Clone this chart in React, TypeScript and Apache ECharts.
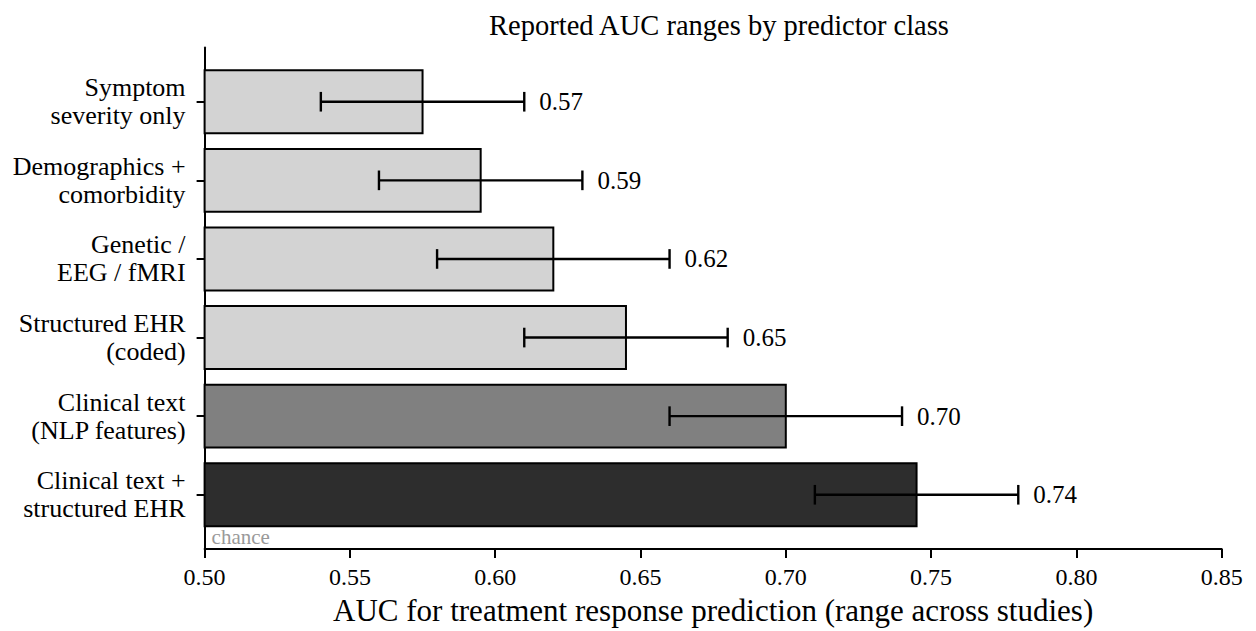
import React, { useEffect, useRef } from "react";
import * as echarts from "echarts";

// ---- data ----
const categories = [
  "Symptom\nseverity only",
  "Demographics +\ncomorbidity",
  "Genetic /\nEEG / fMRI",
  "Structured EHR\n(coded)",
  "Clinical text\n(NLP features)",
  "Clinical text +\nstructured EHR",
];
const aucPoint = [0.575, 0.595, 0.62, 0.645, 0.7, 0.745];
const aucLow = [0.54, 0.56, 0.58, 0.61, 0.66, 0.71];
const aucHigh = [0.61, 0.63, 0.66, 0.68, 0.74, 0.78];
const pointLabels = ["0.57", "0.59", "0.62", "0.65", "0.70", "0.74"];
const chanceLevel = 0.5;
const xMin = 0.5;
const xMax = 0.85;
const xStep = 0.05;

// ---- styles ----
const barFills = ["#d3d3d3", "#d3d3d3", "#d3d3d3", "#d3d3d3", "#808080", "#2d2d2d"];
const FONT = "Liberation Serif";
const Y_MIN = -0.69;
const Y_MAX = categories.length - 1 + 0.69;

export default function App() {
  const ref = useRef<HTMLDivElement>(null);

  useEffect(() => {
    if (!ref.current) return;
    const chart = echarts.init(ref.current, undefined, { renderer: "svg" });
    const idx = categories.map((_, i) => i);

    const barData = categories.map((_, i) => [aucPoint[i], i, aucLow[i], aucHigh[i]]);

    const option: any = {
      animation: false,
      backgroundColor: "#ffffff",
      textStyle: { fontFamily: FONT },
      title: {
        text: "Reported AUC ranges by predictor class",
        left: 714,
        top: 6,
        textAlign: "center",
        textStyle: { fontFamily: FONT, fontSize: 28.5, fontWeight: "normal", color: "#000" },
      },
      grid: { left: 204.6, right: 34.3, top: 47.5, bottom: 78, containLabel: false },
      xAxis: {
        type: "value",
        min: xMin,
        max: xMax,
        interval: xStep,
        name: "AUC for treatment response prediction (range across studies)",
        nameLocation: "middle",
        nameGap: 46,
        nameTextStyle: { fontFamily: FONT, fontSize: 31, color: "#000" },
        axisLine: { show: true, onZero: false, lineStyle: { color: "#000", width: 2 } },
        axisTick: { show: true, length: 9, lineStyle: { color: "#000", width: 2 } },
        axisLabel: {
          margin: 16,
          fontFamily: FONT,
          fontSize: 24,
          color: "#000",
          formatter: (v: number) => v.toFixed(2),
        },
        splitLine: { show: false },
      },
      yAxis: {
        type: "value",
        inverse: true,
        min: Y_MIN,
        max: Y_MAX,
        axisLine: { show: true, onZero: false, lineStyle: { color: "#000", width: 2 } },
        axisTick: { show: true, length: 8, customValues: idx, lineStyle: { color: "#000", width: 2 } },
        axisLabel: {
          customValues: idx,
          margin: 19,
          fontFamily: FONT,
          fontSize: 26,
          lineHeight: 28,
          color: "#000",
          align: "right",
          formatter: (v: number) => categories[Math.round(v)] ?? "",
        },
        splitLine: { show: false },
      },
      series: [
        {
          type: "custom",
          name: "AUC",
          clip: false,
          encode: { x: [0, 2, 3], y: 1 },
          data: barData,
          renderItem: (params: any, api: any) => {
            const v = api.value(0);
            const i = api.value(1);
            const lo = api.value(2);
            const hi = api.value(3);
            const a = api.coord([chanceLevel, i - 0.4]);
            const b = api.coord([v, i + 0.4]);
            const pl = api.coord([lo, i]);
            const ph = api.coord([hi, i]);
            const capH = Math.abs(api.size([0, 0.125])[1]);
            const top = Math.min(a[1], b[1]);
            const h = Math.abs(b[1] - a[1]);
            return {
              type: "group",
              children: [
                {
                  type: "rect",
                  shape: { x: a[0], y: top, width: b[0] - a[0], height: h },
                  style: { fill: barFills[i], stroke: "#000", lineWidth: 2 },
                },
                {
                  type: "line",
                  shape: { x1: pl[0], y1: pl[1], x2: ph[0], y2: ph[1] },
                  style: { stroke: "#000", lineWidth: 2.4 },
                },
                {
                  type: "line",
                  shape: { x1: pl[0], y1: pl[1] - capH, x2: pl[0], y2: pl[1] + capH },
                  style: { stroke: "#000", lineWidth: 2.4 },
                },
                {
                  type: "line",
                  shape: { x1: ph[0], y1: ph[1] - capH, x2: ph[0], y2: ph[1] + capH },
                  style: { stroke: "#000", lineWidth: 2.4 },
                },
                {
                  type: "text",
                  style: {
                    x: ph[0] + 15,
                    y: ph[1],
                    text: pointLabels[i],
                    fill: "#000",
                    fontFamily: FONT,
                    fontSize: 25,
                    align: "left",
                    verticalAlign: "middle",
                  },
                },
              ],
            };
          },
        },
        {
          type: "custom",
          name: "chance",
          clip: false,
          encode: { x: 0, y: 1 },
          data: [[chanceLevel, Y_MAX]],
          renderItem: (params: any, api: any) => {
            const p = api.coord([api.value(0), api.value(1)]);
            return {
              type: "text",
              style: {
                x: p[0] + 7,
                y: p[1] - 2,
                text: "chance",
                fill: "#999999",
                fontFamily: FONT,
                fontSize: 21,
                align: "left",
                verticalAlign: "bottom",
              },
            };
          },
        },
      ],
    };

    chart.setOption(option);
    return () => chart.dispose();
  }, []);

  return (
    <div
      ref={ref}
      style={{ position: "fixed", left: 0, top: 0, width: 1256, height: 631, background: "#fff" }}
    />
  );
}
